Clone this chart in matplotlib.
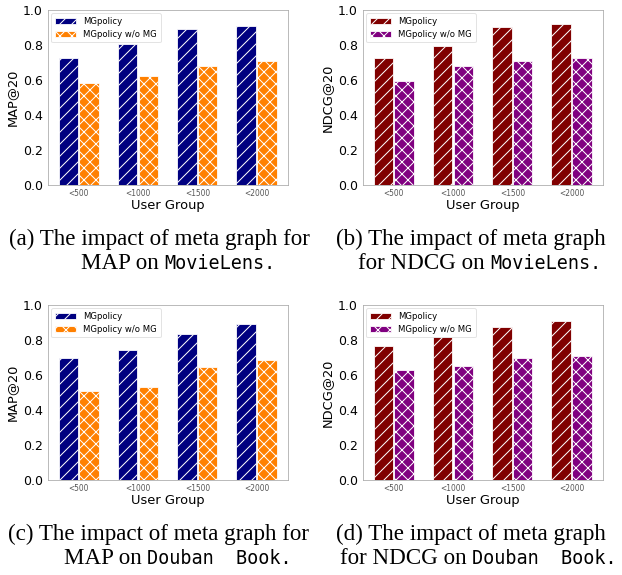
import numpy as np
import matplotlib
matplotlib.use("Agg")
import matplotlib.pyplot as plt

groups = ["<500", "<1000", "<1500", "<2000"]
labels = ["MGpolicy", "MGpolicy w/o MG"]

map_movielens = [0.725, 0.806, 0.892, 0.911]
map_movielens_womg = [0.583, 0.622, 0.679, 0.708]
ndcg_movielens = [0.725, 0.793, 0.901, 0.920]
ndcg_movielens_womg = [0.596, 0.681, 0.708, 0.727]
map_douban = [0.695, 0.744, 0.833, 0.890]
map_douban_womg = [0.506, 0.532, 0.648, 0.688]
ndcg_douban = [0.765, 0.818, 0.875, 0.909]
ndcg_douban_womg = [0.631, 0.653, 0.699, 0.710]

W, H, DPI = 622, 575, 72
plt.rcParams["hatch.color"] = "white"
plt.rcParams["hatch.linewidth"] = 1.0

fig = plt.figure(figsize=(W / DPI, H / DPI), dpi=DPI)

def panel(rect, mg, womg, ylabel, colors):
    ax = fig.add_axes(rect)
    x = np.arange(len(groups))
    w = 0.33
    ax.bar(x - w / 2 - 0.01, mg, w, color=colors[0], edgecolor="white", linewidth=0.8, hatch="//", label=labels[0])
    ax.bar(x + w / 2 + 0.01, womg, w, color=colors[1], edgecolor="white", linewidth=0.8, hatch="xx", label=labels[1])
    ax.set_ylim(0, 1.0)
    ax.set_xlim(-0.52, 3.53)
    ticks = np.arange(0, 1.01, 0.2)
    ax.set_yticks(ticks)
    ax.set_yticklabels([f"{v:.1f}" for v in ticks], fontsize=12.5)
    ax.set_xticks(x)
    ax.set_xticklabels(groups, fontsize=7.5, color="#555555")
    ax.tick_params(axis="y", length=0, pad=5)
    ax.tick_params(axis="x", length=0, pad=4)
    ax.set_xlabel("User Group", fontsize=13, labelpad=1)
    ax.set_ylabel(ylabel, fontsize=13, labelpad=4)
    for s in ax.spines.values():
        s.set_color("#aaaaaa")
    ax.legend(loc="upper left", fontsize=8.5, frameon=True, edgecolor="#dddddd",
              handlelength=2.5, handleheight=0.75, borderpad=0.45, labelspacing=0.4,
              borderaxespad=0.4)
    return ax

lw, hh = 240 / W, 175 / H
panel([48 / W, 1 - 185 / H, lw, hh], map_movielens, map_movielens_womg, "MAP@20", ["#000080", "#ff8000"])
panel([363 / W, 1 - 185 / H, lw, hh], ndcg_movielens, ndcg_movielens_womg, "NDCG@20", ["#800000", "#800080"])
panel([48 / W, 1 - 480 / H, lw, hh], map_douban, map_douban_womg, "MAP@20", ["#000080", "#ff8000"])
panel([363 / W, 1 - 480 / H, lw, hh], ndcg_douban, ndcg_douban_womg, "NDCG@20", ["#800000", "#800080"])

# captions: serif text with monospace dataset names
SERIF, MONO = "Liberation Serif", "DejaVu Sans Mono"
r = fig.canvas.get_renderer()

def caption(cx, ybase, parts):
    objs, widths = [], []
    for s, fam, sz in parts:
        t = fig.text(0, 1 - ybase / H, s.strip(), family=fam, fontsize=sz, va="baseline")
        wd = t.get_window_extent(r).width
        if s.endswith(" "):
            wd += 0.25 * sz * DPI / 72
        objs.append(t)
        widths.append(wd)
    x = cx - sum(widths) / 2
    for t, wd in zip(objs, widths):
        t.set_x(x / W)
        x += wd

SZ, MSZ = 23, 18.5
caption(159, 245, [("(a) The impact of meta graph for", SERIF, SZ)])
caption(178, 269, [("MAP on ", SERIF, SZ), ("MovieLens.", MONO, MSZ)])
caption(471, 245, [("(b) The impact of meta graph", SERIF, SZ)])
caption(480, 269, [("for NDCG on ", SERIF, SZ), ("MovieLens.", MONO, MSZ)])
caption(159, 540, [("(c) The impact of meta graph for", SERIF, SZ)])
caption(178, 564, [("MAP on ", SERIF, SZ), ("Douban  Book.", MONO, MSZ)])
caption(471, 540, [("(d) The impact of meta graph", SERIF, SZ)])
caption(478, 564, [("for NDCG on ", SERIF, SZ), ("Douban  Book.", MONO, MSZ)])

fig.savefig("out.png", dpi=DPI)
